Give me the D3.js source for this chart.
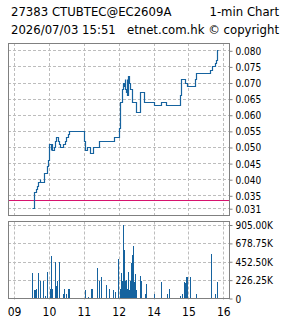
<!DOCTYPE html>
<html>
<head>
<meta charset="utf-8">
<script src="https://cdn.jsdelivr.net/npm/d3@7"></script>
<style>
  body { margin: 0; background: #fff; }
  svg { display: block; }
  .title { font-family: "DejaVu Sans", sans-serif; font-size: 11.7px; fill: #000; }
  .tick-label { font-family: "DejaVu Sans Condensed", "DejaVu Sans", sans-serif; font-stretch: condensed; font-size: 10px; fill: #000; }
  .x-label { font-family: "DejaVu Sans Condensed", "DejaVu Sans", sans-serif; font-stretch: condensed; font-size: 12px; fill: #000; }
</style>
</head>
<body>
<script>
// Price steps (time, price)
var priceTimes = ["09:31","09:35","09:37","09:39","09:41","09:44","09:45","09:52","09:56","09:59",
  "10:01","10:03","10:04","10:06","10:08","10:11","10:13","10:15","10:17","10:19","10:25","10:27","10:30","10:33","10:35",
  "11:01","11:02","11:05","11:11","11:15","11:26","11:52",
  "13:01","13:02","13:03","13:06","13:08","13:09","13:10","13:11","13:12","13:14","13:15","13:16","13:17","13:18","13:20",
  "13:23","13:29","13:36","13:37","13:44","14:00","14:12","14:22","14:46","14:47","14:54","14:58",
  "15:12","15:13","15:37","15:41","15:46","15:48","15:50","15:51"];
var priceValues = [0.031,0.036,0.037,0.038,0.039,0.040,0.039,0.042,0.044,0.046,
  0.051,0.049,0.051,0.049,0.050,0.052,0.053,0.052,0.051,0.050,0.051,0.052,0.053,0.054,0.055,
  0.052,0.049,0.050,0.048,0.050,0.052,0.053,
  0.056,0.061,0.064,0.068,0.070,0.069,0.071,0.068,0.067,0.071,0.066,0.072,0.071,0.070,0.068,
  0.064,0.061,0.064,0.067,0.064,0.063,0.064,0.063,0.066,0.071,0.070,0.069,
  0.071,0.073,0.074,0.075,0.076,0.077,0.080,0.080];

// Volume per minute (time, volume)
var volTimes = ["09:31","09:35","09:36","09:37","09:38","09:41","09:45","09:50","09:53","09:57",
  "10:02","10:03","10:04","10:05","10:06","10:10","10:11","10:12","10:14","10:17","10:18","10:24","10:25","10:26","10:29","10:33","10:34",
  "11:02","11:07","11:12","11:14","11:22","11:26","11:29","11:38","11:39","11:43","11:51","11:53","11:58",
  "13:02","13:03","13:04","13:05","13:06","13:07","13:08","13:09","13:10","13:11","13:12","13:13","13:14","13:15","13:16","13:17",
  "13:18","13:19","13:20","13:21","13:22","13:23","13:24","13:25","13:26","13:27","13:28","13:29","13:37","13:38","13:45","13:47",
  "14:00","14:13","14:23","14:26","14:45","14:49","14:52","14:54","14:56","14:58",
  "15:02","15:13","15:38","15:45","15:50"];
var volValues = [315000,102000,102000,115000,115000,315000,217000,217000,29000,323000,
  119000,520000,135000,119000,110000,454000,119000,151000,213000,446000,127000,53000,53000,115000,53000,115000,115000,
  102000,16000,123000,115000,376000,218000,267000,136000,165000,115000,102000,82000,491000,
  123000,120000,315000,213000,100000,904000,190000,601000,213000,150000,225000,130000,102000,120000,327000,102000,
  110000,213000,150000,438000,180000,536000,200000,642000,205000,110000,307000,102000,274000,213000,61000,184000,
  53000,202000,53000,115000,29000,53000,206000,193000,259000,259000,
  259000,53000,547000,53000,206000];

var hourTicks = [9, 10, 11, 12, 14, 15, 16];
var hourLabels = ["09", "10", "11", "12", "14", "15", "16"];
var priceTicks = [0.080, 0.075, 0.070, 0.065, 0.060, 0.055, 0.050, 0.045, 0.040, 0.035, 0.031];
var volTicks = [0, 226250, 452500, 678750, 905000];
var volTickLabels = ["0", "226.25K", "452.50K", "678.75K", "905.00K"];
var prevClose = 0.0336;

var width = 285, height = 318;
var frameLeft = 8, frameRight = 229;
var priceTop = 43, priceBottom = 215;
var volTop = 221.5, volBottom = 298.5;

var lineColor = "#16639f";
var gridColor = "#bdbdbd";
var frameColor = "#808080";

function toHour(t) {
  var p = t.split(":");
  return +p[0] + (+p[1]) / 60;
}

var svg = d3.select("body").append("svg")
  .attr("width", width)
  .attr("height", height);

// Trading time scale: the lunch break folds to one point
var x = d3.scaleLinear()
  .domain([9, 12, 13, 16])
  .range([14, 118.7, 118.7, 223.3]);

var yPrice = d3.scaleLinear()
  .domain([0.031, 0.080])
  .range([208.2, 50.3]);

var yVol = d3.scaleLinear()
  .domain([0, 905000])
  .range([volBottom, 225]);

// Header
svg.append("text").attr("class", "title").attr("x", 11).attr("y", 16).text("27383 CTUBTEC@EC2609A");
svg.append("text").attr("class", "title").attr("x", 279).attr("y", 16).attr("text-anchor", "end").text("1-min Chart");
svg.append("text").attr("class", "title").attr("x", 11).attr("y", 34).text("2026/07/03 15:51");
svg.append("text").attr("class", "title").attr("x", 279).attr("y", 34).attr("text-anchor", "end").text("etnet.com.hk © copyright");

function drawGrid(g, top, bottom, yTicks, yScale) {
  g.selectAll(".vgrid")
    .data(hourTicks)
    .enter()
    .append("line")
    .attr("x1", d => Math.round(x(d)) + 0.5)
    .attr("x2", d => Math.round(x(d)) + 0.5)
    .attr("y1", top)
    .attr("y2", bottom)
    .attr("stroke", gridColor)
    .attr("stroke-dasharray", "3,2");
  g.selectAll(".hgrid")
    .data(yTicks)
    .enter()
    .append("line")
    .attr("x1", frameLeft)
    .attr("x2", frameRight)
    .attr("y1", d => Math.round(yScale(d)) + 0.5)
    .attr("y2", d => Math.round(yScale(d)) + 0.5)
    .attr("stroke", gridColor)
    .attr("stroke-dasharray", "3,2");
}

// Price panel
var pricePanel = svg.append("g");
drawGrid(pricePanel, priceTop, priceBottom, priceTicks, yPrice);

pricePanel.append("line")
  .attr("x1", frameLeft).attr("x2", frameRight)
  .attr("y1", Math.round(yPrice(prevClose)) + 0.5).attr("y2", Math.round(yPrice(prevClose)) + 0.5)
  .attr("stroke", "#d6136f")
  .attr("stroke-width", 1.2);

var priceData = priceTimes.map((t, i) => ({ h: toHour(t), v: priceValues[i] }));
var priceLine = d3.line()
  .x(d => Math.round(x(d.h)) + 0.5)
  .y(d => Math.round(yPrice(d.v)) + 0.5)
  .curve(d3.curveStepAfter);

pricePanel.append("path")
  .datum(priceData)
  .attr("d", priceLine)
  .attr("fill", "none")
  .attr("stroke", lineColor)
  .attr("stroke-width", 1.2);

pricePanel.append("rect")
  .attr("x", frameLeft + 0.5).attr("y", priceTop + 0.5)
  .attr("width", frameRight - frameLeft).attr("height", priceBottom - priceTop)
  .attr("fill", "none")
  .attr("stroke", frameColor);

var priceAxis = d3.axisRight(yPrice)
  .tickValues(priceTicks)
  .tickSize(3)
  .tickFormat(d3.format(".3f"));
var pa = svg.append("g")
  .attr("transform", `translate(${frameRight + 0.5},0.5)`)
  .call(priceAxis);
pa.select(".domain").remove();
pa.selectAll("line").attr("stroke", frameColor);
pa.selectAll("text").attr("class", "tick-label").attr("x", 6).attr("dy", "0.35em");

// Volume panel
var volPanel = svg.append("g");
drawGrid(volPanel, volTop, volBottom + 3, volTicks.slice(1), yVol);

var volData = volTimes.map((t, i) => ({ h: toHour(t), v: volValues[i] }));
volPanel.selectAll(".bar")
  .data(volData)
  .enter()
  .append("rect")
  .attr("x", d => Math.round(x(d.h)))
  .attr("y", d => Math.round(yVol(d.v)))
  .attr("width", 1)
  .attr("height", d => volBottom - Math.round(yVol(d.v)))
  .attr("fill", lineColor)
  .attr("shape-rendering", "crispEdges");

volPanel.append("rect")
  .attr("x", frameLeft + 0.5).attr("y", volTop)
  .attr("width", frameRight - frameLeft).attr("height", volBottom - volTop)
  .attr("fill", "none")
  .attr("stroke", frameColor);

var volAxis = d3.axisRight(yVol)
  .tickValues(volTicks)
  .tickSize(3)
  .tickFormat((d, i) => volTickLabels[i]);
var va = svg.append("g")
  .attr("transform", `translate(${frameRight + 0.5},0)`)
  .call(volAxis);
va.select(".domain").remove();
va.selectAll("line").attr("stroke", frameColor);
va.selectAll("text").attr("class", "tick-label").attr("x", 6).attr("dy", "0.35em");

// Time axis labels
var xAxis = d3.axisBottom(x)
  .tickValues(hourTicks)
  .tickSize(0)
  .tickFormat((d, i) => hourLabels[i]);
var xa = svg.append("g")
  .attr("transform", `translate(0,${volBottom + 3})`)
  .call(xAxis);
xa.select(".domain").remove();
xa.selectAll("text").attr("class", "x-label").attr("dy", "0.95em");
</script>
</body>
</html>
